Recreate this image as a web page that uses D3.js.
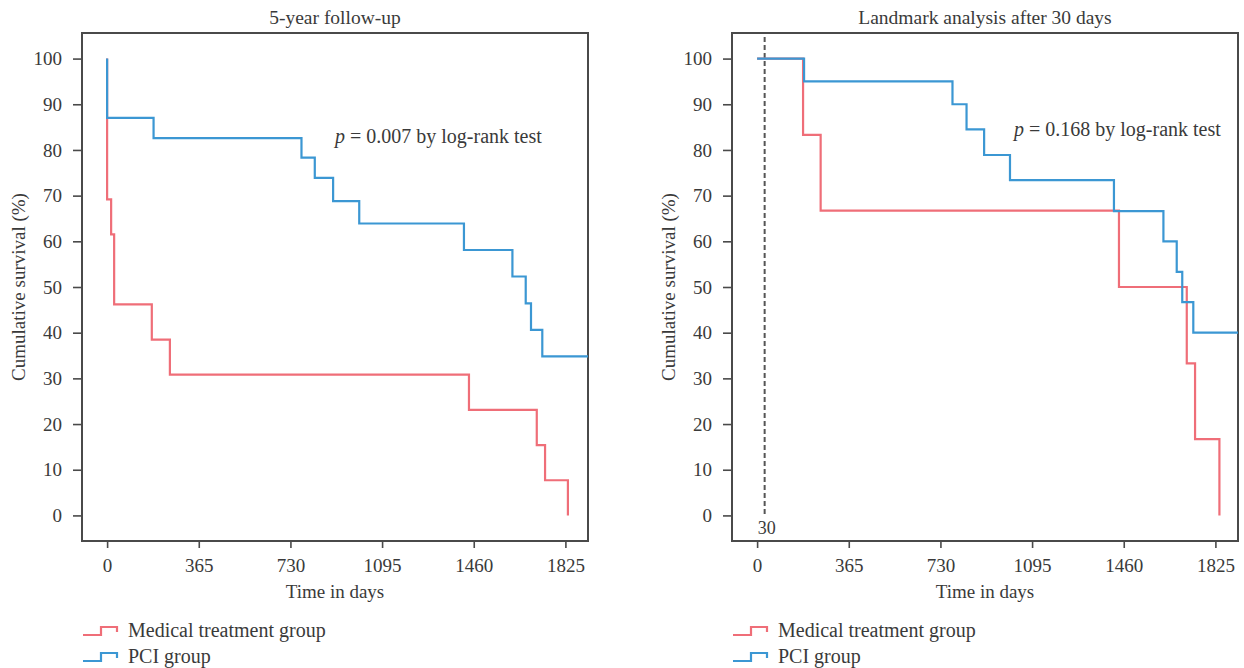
<!DOCTYPE html>
<html>
<head>
<meta charset="utf-8">
<script src="https://d3js.org/d3.v7.min.js"></script>
<style>
body{margin:0;background:#fff;}
text{font-family:'Liberation Serif','Times New Roman',serif;fill:#3a3a3a;}
.axis line{stroke:#4a4a4a;stroke-width:1.6;}
.axis text{font-size:19px;}
</style>
</head>
<body>
<div id="canvas"></div>
<script>
var xTicks=[0,365,730,1095,1460,1825],
    yTicks=[0,10,20,30,40,50,60,70,80,90,100];
var groups=['Medical treatment group','PCI group'],
    colors=['#ef6e78','#3b97d3'];

// 5-year follow-up: time in days, cumulative survival (%)
var fuMedDays=[0,0,16,28,178,250,1441,1711,1744,1835],
    fuMedSurv=[100,69.2,61.5,46.2,38.5,30.8,23.1,15.4,7.7,0];
var fuPciDays=[0,0,185,774,827,900,1004,1421,1614,1667,1688,1733,1915],
    fuPciSurv=[100,87.0,82.6,78.3,73.9,68.8,63.9,58.1,52.3,46.4,40.6,34.8,34.8];

// landmark analysis after 30 days
var lmMedDays=[0,183,253,1441,1711,1744,1841],
    lmMedSurv=[100,83.3,66.7,50,33.3,16.7,0];
var lmPciDays=[0,187,778,834,904,1007,1421,1618,1671,1693,1737,1915],
    lmPciSurv=[100,95,90,84.5,78.9,73.4,66.6,60,53.3,46.7,40,40];
var landmarkDay=30;

var outerWidth=1244,outerHeight=668;
var w=506,h=508,mTop=33;

var svg=d3.select('#canvas')
    .append('svg')
    .attr('width',outerWidth)
    .attr('height',outerHeight);

var scaleX=d3.scaleLinear().domain([-100,1915]).range([0,w]),
    scaleY=d3.scaleLinear().domain([-5.6,105.6]).range([h,0]);

var line=d3.line()
    .x(function(d){return scaleX(d[0])})
    .y(function(d){return scaleY(d[1])})
    .curve(d3.curveStepAfter);

function pairs(days,surv){
    return days.map(function(d,i){return [d,surv[i]]});
}

function panel(ox,title,pText,pX,pY,series,landmark){
    var plot=svg.append('g')
        .attr('transform','translate('+ox+','+mTop+')');

    //axes
    var axisX=d3.axisBottom(scaleX).tickValues(xTicks).tickFormat(d3.format('d')).tickSize(7).tickPadding(11),
        axisY=d3.axisLeft(scaleY).tickValues(yTicks).tickFormat(d3.format('d')).tickSize(9).tickPadding(11);
    var nodeX=plot.append('g').attr('class','axis')
        .attr('transform','translate(0,'+h+')').call(axisX);
    var nodeY=plot.append('g').attr('class','axis').call(axisY);
    nodeX.select('.domain').remove();
    nodeY.select('.domain').remove();
    nodeX.selectAll('text').attr('fill','#3a3a3a');
    nodeY.selectAll('text').attr('fill','#3a3a3a');

    //frame
    plot.append('rect')
        .attr('width',w).attr('height',h)
        .attr('fill','none')
        .attr('stroke','#4a4a4a')
        .attr('stroke-width',2);

    if(landmark!=null){
        plot.append('line')
            .attr('x1',scaleX(landmark)).attr('x2',scaleX(landmark))
            .attr('y1',4).attr('y2',scaleY(0))
            .attr('stroke','#555')
            .attr('stroke-width',2)
            .attr('stroke-dasharray','5,3');
        plot.append('text')
            .attr('x',scaleX(landmark)+2).attr('y',scaleY(0)+19)
            .attr('text-anchor','middle')
            .style('font-size','18px')
            .text(landmark);
    }

    series.forEach(function(s,i){
        plot.append('path')
            .attr('d',line(s))
            .attr('fill','none')
            .attr('stroke',colors[i])
            .attr('stroke-width',2.2);
    });

    //p value
    var p=plot.append('text')
        .attr('x',pX).attr('y',pY)
        .style('font-size','20px');
    p.append('tspan').style('font-style','italic').text('p');
    p.append('tspan').text(pText);

    //titles
    plot.append('text')
        .attr('x',w/2).attr('y',-9)
        .attr('text-anchor','middle')
        .style('font-size','19.5px')
        .text(title);
    plot.append('text')
        .attr('x',w/2).attr('y',h+57)
        .attr('text-anchor','middle')
        .style('font-size','19px')
        .text('Time in days');
    plot.append('text')
        .attr('transform','translate(-64,'+h/2+') rotate(-90)')
        .attr('dy','0.35em')
        .attr('text-anchor','middle')
        .style('font-size','19px')
        .text('Cumulative survival (%)');

    //legend
    var legend=plot.selectAll('.legend')
        .data(groups)
        .enter().append('g')
        .attr('class','legend')
        .attr('transform',function(d,i){return 'translate(1,'+(598+i*26)+')'});
    legend.append('path')
        .attr('d','M0,4H18V-4H34V1')
        .attr('fill','none')
        .attr('stroke',function(d,i){return colors[i]})
        .attr('stroke-width',2.2);
    legend.append('text')
        .attr('x',45).attr('y',6)
        .style('font-size','20px')
        .text(function(d){return d});
}

panel(82,'5-year follow-up',' = 0.007 by log-rank test',253,110,
    [pairs(fuMedDays,fuMedSurv),pairs(fuPciDays,fuPciSurv)],null);
panel(732,'Landmark analysis after 30 days',' = 0.168 by log-rank test',282,103,
    [pairs(lmMedDays,lmMedSurv),pairs(lmPciDays,lmPciSurv)],landmarkDay);
</script>
</body>
</html>
